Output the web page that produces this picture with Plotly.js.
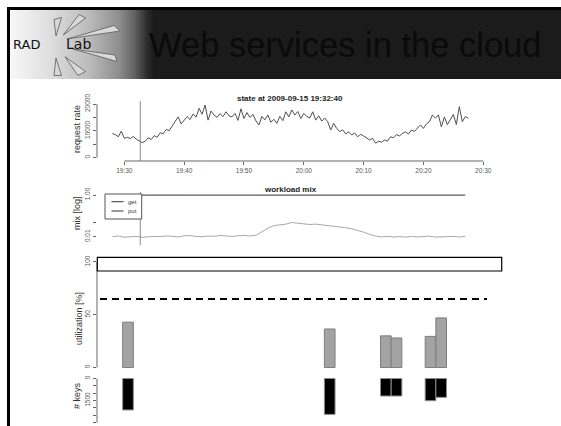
<!DOCTYPE html>
<html>
<head>
<meta charset="utf-8">
<script src="https://cdn.plot.ly/plotly-3.0.1.min.js"></script>
<style>html,body{margin:0;padding:0;background:#fff;}#chart{width:561px;height:426px;}</style>
</head>
<body>
<div id="chart"></div>
<script>
// ---------------- DATA ----------------
const day = '2009-09-15 ';
const slideTitle = 'Web services in the cloud';
const logoWords = ['RAD', 'Lab'];
const rateTitle = 'state at 2009-09-15 19:32:40';
const mixTitle = 'workload mix';
const markerTime = '19:32:40';
const xTickTimes = ['19:30', '19:40', '19:50', '20:00', '20:10', '20:20', '20:30'];
const xTickLabels = ['19:30', '19:40', '19:50', '20:00', '20:10', '20:20', '20:30'];

const rateTimes = [
 '19:28:00','19:28:30','19:29:00','19:29:30','19:30:00','19:30:30','19:31:00','19:31:30','19:32:00','19:32:30',
 '19:33:00','19:33:30','19:34:00','19:34:30','19:35:00','19:35:30','19:36:00','19:36:30','19:37:00','19:37:30',
 '19:38:00','19:38:30','19:39:00','19:39:30','19:40:00','19:40:30','19:41:00','19:41:30','19:42:00','19:42:30',
 '19:43:00','19:43:30','19:44:00','19:44:30','19:45:00','19:45:30','19:46:00','19:46:30','19:47:00','19:47:30',
 '19:48:00','19:48:30','19:49:00','19:49:30','19:50:00','19:50:30','19:51:00','19:51:30','19:52:00','19:52:30',
 '19:53:00','19:53:30','19:54:00','19:54:30','19:55:00','19:55:30','19:56:00','19:56:30','19:57:00','19:57:30',
 '19:58:00','19:58:30','19:59:00','19:59:30','20:00:00','20:00:30','20:01:00','20:01:30','20:02:00','20:02:30',
 '20:03:00','20:03:30','20:04:00','20:04:30','20:05:00','20:05:30','20:06:00','20:06:30','20:07:00','20:07:30',
 '20:08:00','20:08:30','20:09:00','20:09:30','20:10:00','20:10:30','20:11:00','20:11:30','20:12:00','20:12:30',
 '20:13:00','20:13:30','20:14:00','20:14:30','20:15:00','20:15:30','20:16:00','20:16:30','20:17:00','20:17:30',
 '20:18:00','20:18:30','20:19:00','20:19:30','20:20:00','20:20:30','20:21:00','20:21:30','20:22:00','20:22:30',
 '20:23:00','20:23:30','20:24:00','20:24:30','20:25:00','20:25:30','20:26:00','20:26:30','20:27:00','20:27:30'];
const requestRate = [
 9000,8600,7800,9900,7200,7600,7100,7900,6900,6300,
 5600,6200,7400,6800,8200,7600,9300,8900,10500,10100,
 11800,13200,15200,12600,14000,15300,14200,16300,15100,18400,
 16200,19600,14000,17400,15900,15000,16400,15300,17100,15600,
 15200,16500,13900,18200,14600,16800,15000,16100,13700,12200,
 15400,14100,15900,13200,14300,12800,15400,13800,17100,15200,
 17800,15900,17200,14600,16500,15400,14800,17100,14000,15600,
 13600,14800,13400,10300,12800,10900,9700,10400,8900,9600,
 8450,9200,7800,8700,8100,7300,6600,7200,5400,6100,
 5800,6600,6200,7800,7400,8600,8100,9100,9600,8800,
 10300,9800,11200,12200,10900,12600,13400,15900,14800,15900,
 11500,15200,12300,14000,16100,12400,19000,13400,15300,14700];

const mixTimes = [
 '19:28','19:29','19:30','19:31','19:32','19:33','19:34','19:35','19:36','19:37',
 '19:38','19:39','19:40','19:41','19:42','19:43','19:44','19:45','19:46','19:47',
 '19:48','19:49','19:50','19:51','19:52','19:53','19:54','19:55','19:56','19:57',
 '19:58','19:59','20:00','20:01','20:02','20:03','20:04','20:05','20:06','20:07',
 '20:08','20:09','20:10','20:11','20:12','20:13','20:14','20:15','20:16','20:17',
 '20:18','20:19','20:20','20:21','20:22','20:23','20:24','20:25','20:26','20:27'];
const putShare = [
 0.0100,0.0108,0.0095,0.0101,0.0104,0.0094,0.0099,0.0103,0.0100,0.0109,
 0.0104,0.0098,0.0110,0.0114,0.0103,0.0099,0.0108,0.0104,0.0115,0.0109,
 0.0103,0.0110,0.0116,0.0108,0.0118,0.0170,0.0260,0.0340,0.0355,0.0400,
 0.0480,0.0440,0.0420,0.0385,0.0400,0.0370,0.0360,0.0340,0.0305,0.0270,
 0.0240,0.0205,0.0165,0.0130,0.0108,0.0098,0.0104,0.0096,0.0101,0.0095,
 0.0103,0.0097,0.0100,0.0106,0.0096,0.0101,0.0098,0.0103,0.0097,0.0105];
const getShare = [
 0.990,0.989,0.990,0.990,0.990,0.991,0.990,0.990,0.990,0.989,
 0.990,0.990,0.989,0.989,0.990,0.990,0.989,0.990,0.988,0.989,
 0.990,0.989,0.988,0.989,0.988,0.983,0.974,0.966,0.965,0.960,
 0.952,0.956,0.958,0.962,0.960,0.963,0.964,0.966,0.970,0.973,
 0.976,0.980,0.984,0.987,0.989,0.990,0.990,0.990,0.990,0.990,
 0.990,0.990,0.990,0.989,0.990,0.990,0.990,0.990,0.990,0.989];
const mixLegend = ['get', 'put'];

const actionTimes = ['19:30:37', '20:04:20', '20:13:43', '20:15:30', '20:21:11', '20:22:58'];
const utilization = [43, 36.5, 30, 28, 29.5, 47];
const utilThreshold = 65;
const keyCounts = [2140, 2440, 1190, 1190, 1510, 1280];

const yTitles = ['request rate', 'mix [log]', 'utilization [%]', '# keys'];

// ---------------- LAYOUT HELPERS (positions / styles) ----------------
const W = 561, H = 426;
const px = v => v / W;
const py = v => 1 - v / H;
const T = t => day + t;
const tickFont = {family: 'Liberation Sans, Arial, sans-serif', size: 6.5, color: '#555'};
const axColor = '#666';

const traces = [
  {x: rateTimes.map(T), y: requestRate, type: 'scatter', mode: 'lines', xaxis: 'x', yaxis: 'y',
   line: {color: '#505050', width: 1}, name: 'request rate'},
  {x: mixTimes.map(T), y: getShare, type: 'scatter', mode: 'lines', xaxis: 'x', yaxis: 'y2',
   line: {color: '#333', width: 1}, name: mixLegend[0]},
  {x: mixTimes.map(T), y: putShare, type: 'scatter', mode: 'lines', xaxis: 'x', yaxis: 'y2',
   line: {color: '#a8a8a8', width: 1}, name: mixLegend[1]},
  {x: actionTimes.map(T), y: utilization, type: 'bar', xaxis: 'x', yaxis: 'y3', width: 107000,
   marker: {color: '#a3a3a3', line: {color: '#7d7d7d', width: 1}}, name: 'utilization'},
  {x: actionTimes.map(T), y: keyCounts, type: 'bar', xaxis: 'x', yaxis: 'y4', width: 107000,
   marker: {color: '#000', line: {color: '#8a8a8a', width: 1}}, name: 'keys'}
];

function yAxis(domTop, domBot, range, vals, text, extra) {
  return Object.assign({
    domain: [py(domBot), py(domTop)], range: range, anchor: 'x',
    tickvals: vals, ticktext: text, ticks: 'outside', ticklen: 3, tickcolor: axColor, tickwidth: 1,
    tickangle: -90, tickfont: tickFont, showline: false, showgrid: false, zeroline: false, fixedrange: true
  }, extra || {});
}

const shapes = [];
// slide border
shapes.push({type: 'rect', xref: 'paper', yref: 'paper', x0: px(7), x1: 1, y0: py(10), y1: py(7), fillcolor: '#000', line: {width: 0}});
shapes.push({type: 'rect', xref: 'paper', yref: 'paper', x0: px(7), x1: px(10), y0: 0, y1: py(7), fillcolor: '#000', line: {width: 0}});
// header band
shapes.push({type: 'rect', xref: 'paper', yref: 'paper', x0: px(10), x1: 1, y0: py(79), y1: py(10), fillcolor: '#1b1b1b', line: {width: 0}});
const gradStops = [[10, 248], [50, 222], [90, 186], [120, 140], [135, 96], [148, 40], [154, 27]];
function gval(x) {
  for (let i = 1; i < gradStops.length; i++) {
    const a = gradStops[i - 1], b = gradStops[i];
    if (x <= b[0]) return Math.round(a[1] + (b[1] - a[1]) * (x - a[0]) / (b[0] - a[0]));
  }
  return 27;
}
for (let x = 10; x < 154; x += 2) {
  const g = gval(x + 1);
  shapes.push({type: 'rect', xref: 'paper', yref: 'paper', x0: px(x), x1: px(x + 2.3), y0: py(79), y1: py(10),
    fillcolor: 'rgb(' + g + ',' + g + ',' + g + ')', line: {width: 0}});
}
// logo rays
const path = pts => 'M' + pts.map(p => px(p[0]).toFixed(5) + ',' + py(p[1]).toFixed(5)).join(' L') + ' Z';
const rays = [
  [[56, 36], [54, 19.5], [61.5, 17.5]],
  [[63.3, 35], [79, 14.5], [85.5, 18]],
  [[67, 39], [114, 25.5], [120, 31]],
  [[73, 49], [115, 55], [117, 61.5]],
  [[65, 56.7], [78, 75.5], [85.5, 71.5]],
  [[56, 58], [54, 75.5], [61.5, 75.5]]
];
rays.forEach(r => shapes.push({type: 'path', xref: 'paper', yref: 'paper', path: path(r),
  fillcolor: '#d9d9d9', line: {color: '#5a5a5a', width: 0.8}}));

// R-style axis lines
shapes.push({type: 'line', xref: 'x', yref: 'paper', x0: T('19:30'), x1: T('20:30'), y0: py(161), y1: py(161), line: {color: axColor, width: 1}});
shapes.push({type: 'line', xref: 'paper', yref: 'y', x0: px(97), x1: px(97), y0: 0, y1: 20000, line: {color: axColor, width: 1}});
shapes.push({type: 'line', xref: 'paper', yref: 'y2', x0: px(97), x1: px(97), y0: -2, y1: 0, line: {color: axColor, width: 1}});
shapes.push({type: 'line', xref: 'paper', yref: 'y3', x0: px(97), x1: px(97), y0: 0, y1: 100, line: {color: axColor, width: 1}});
shapes.push({type: 'line', xref: 'paper', yref: 'y4', x0: px(97), x1: px(97), y0: 0, y1: 3000, line: {color: axColor, width: 1}});
// time marker
shapes.push({type: 'line', xref: 'x', yref: 'paper', x0: T(markerTime), x1: T(markerTime), y0: py(161), y1: py(101), line: {color: '#8a8a8a', width: 1}});
shapes.push({type: 'line', xref: 'x', yref: 'paper', x0: T(markerTime), x1: T(markerTime), y0: py(245), y1: py(192), line: {color: '#8a8a8a', width: 1}});
// mix legend box
shapes.push({type: 'rect', xref: 'paper', yref: 'paper', x0: px(105), x1: px(141.7), y0: py(219), y1: py(194), fillcolor: '#fff', line: {color: '#555', width: 1}, layer: 'above'});
shapes.push({type: 'line', xref: 'paper', yref: 'paper', x0: px(111.5), x1: px(123.5), y0: py(201.7), y1: py(201.7), line: {color: '#333', width: 1}, layer: 'above'});
shapes.push({type: 'line', xref: 'paper', yref: 'paper', x0: px(111.5), x1: px(123.5), y0: py(211), y1: py(211), line: {color: '#333', width: 1}, layer: 'above'});
// utilization frame and threshold
shapes.push({type: 'rect', xref: 'paper', yref: 'paper', x0: px(97.3), x1: px(501.7), y0: py(271), y1: py(257.3), line: {color: '#000', width: 1.2}, fillcolor: 'rgba(0,0,0,0)'});
shapes.push({type: 'line', xref: 'paper', yref: 'y3', x0: px(100), x1: px(487), y0: utilThreshold, y1: utilThreshold, line: {color: '#000', width: 2, dash: '7px,5px'}});

const annFont = (s, c, w) => ({family: 'Liberation Sans, Arial, sans-serif', size: s, color: c, weight: w || 'normal'});
const annotations = [
  {text: slideTitle, x: px(345), y: py(45), xref: 'paper', yref: 'paper', xanchor: 'center', yanchor: 'middle', showarrow: false,
   font: annFont(34.5, '#0a0a0a')},
  {text: logoWords[0], x: px(26), y: py(44), xref: 'paper', yref: 'paper', xanchor: 'center', yanchor: 'middle', showarrow: false,
   font: {family: 'DejaVu Sans, sans-serif', size: 13, color: '#111'}},
  {text: logoWords[1], x: px(78), y: py(44), xref: 'paper', yref: 'paper', xanchor: 'center', yanchor: 'middle', showarrow: false,
   font: {family: 'DejaVu Sans, sans-serif', size: 14, color: '#111'}},
  {text: '<b>' + rateTitle + '</b>', x: px(290), y: py(98.5), xref: 'paper', yref: 'paper', xanchor: 'center', yanchor: 'middle', showarrow: false,
   font: annFont(8, '#222')},
  {text: '<b>' + mixTitle + '</b>', x: px(290), y: py(189.3), xref: 'paper', yref: 'paper', xanchor: 'center', yanchor: 'middle', showarrow: false,
   font: annFont(8, '#222')},
  {text: mixLegend[0], x: px(126), y: py(201.5), xref: 'paper', yref: 'paper', xanchor: 'left', yanchor: 'middle', showarrow: false,
   font: annFont(6, '#333')},
  {text: mixLegend[1], x: px(126), y: py(211), xref: 'paper', yref: 'paper', xanchor: 'left', yanchor: 'middle', showarrow: false,
   font: annFont(6, '#333')}
];
const yTitlePos = [[77, 129], [77, 213], [79, 319], [77, 396]];
yTitles.forEach((t, i) => annotations.push({text: t, x: px(yTitlePos[i][0]), y: py(yTitlePos[i][1]), xref: 'paper', yref: 'paper',
  xanchor: 'center', yanchor: 'middle', textangle: -90, showarrow: false, font: annFont(9, '#333')}));

const layout = {
  width: W, height: H, autosize: false, margin: {l: 0, r: 0, t: 0, b: 0, pad: 0},
  paper_bgcolor: '#fff', plot_bgcolor: 'rgba(0,0,0,0)', showlegend: false, bargap: 0,
  xaxis: {type: 'date', domain: [px(97), px(502)], range: [T('19:25:26'), T('20:33:08')], anchor: 'y',
    tickvals: xTickTimes.map(T), ticktext: xTickLabels, ticks: 'outside', ticklen: 3, tickcolor: axColor, tickwidth: 1,
    tickfont: tickFont, showline: false, showgrid: false, zeroline: false, fixedrange: true},
  yaxis: yAxis(101, 161, [-1229, 21117], [0, 5000, 10000, 15000, 20000], ['0', '', '10000', '', '20000']),
  yaxis2: yAxis(192, 245, [-2.398, 0.144], [0.01, 0.05, 1], ['0.01', '', '1.00'], {type: 'log'}),
  yaxis3: yAxis(255, 371, [-3.3, 106.6], [0, 50, 100], ['0', '50', '100']),
  yaxis4: yAxis(375, 426, [3231, -238], [0, 500, 1000, 1500, 2000, 2500, 3000], ['0', '', '', '1500', '', '', '3000']),
  shapes: shapes,
  annotations: annotations
};

Plotly.newPlot('chart', traces, layout, {staticPlot: true, displayModeBar: false});
</script>
</body>
</html>
